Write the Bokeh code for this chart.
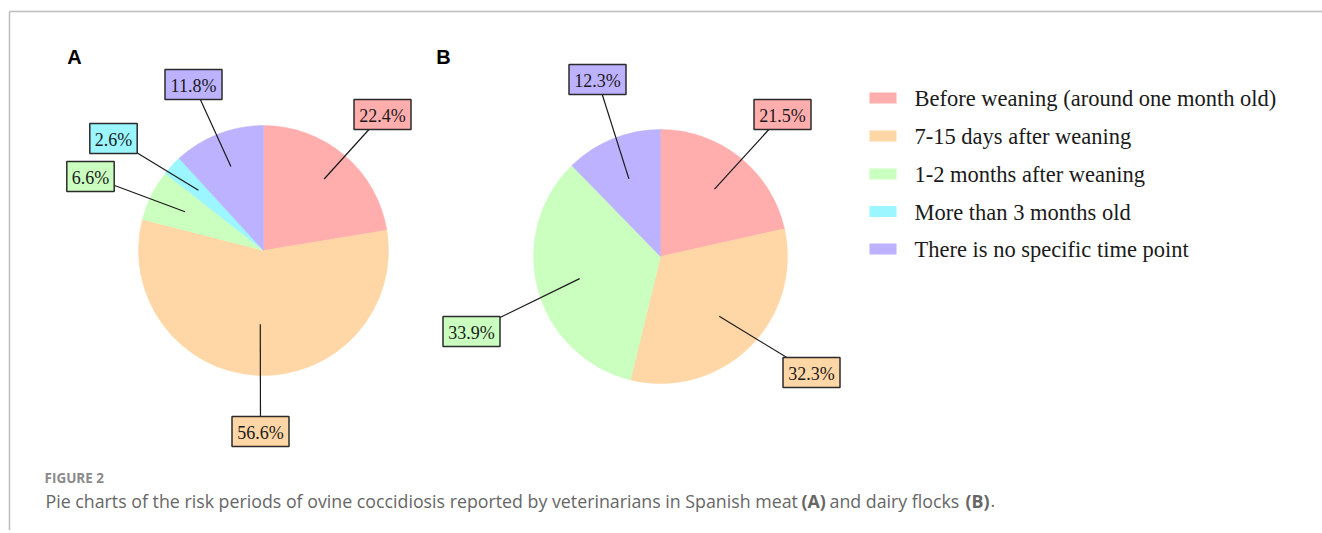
import math
from bokeh.plotting import figure
from bokeh.models import Range1d, ColumnDataSource
from bokeh.core.properties import value
from bokeh.embed import file_html
from bokeh.resources import INLINE

# ---------------- data ----------------
categories = ["Before weaning (around one month old)", "7-15 days after weaning",
              "1-2 months after weaning", "More than 3 months old",
              "There is no specific time point"]
meat_pct = [22.4, 56.6, 6.6, 2.6, 11.8]     # panel A
dairy_pct = [21.5, 32.3, 33.9, 0.0, 12.3]   # panel B
panel_names = ["A", "B"]
caption_title = "FIGURE 2"

# ---------------- style / layout ----------------
colors = ["#FFADAD", "#FFD6A5", "#CAFFBF", "#9BF6FF", "#BDB2FF"]
W, H = 1322, 530
# page pixel (px, py) -> data (px, 533 - py)
def Y(py):
    return 533 - py

pies = [
    dict(vals=meat_pct, cx=263, cy=250, r=125,
         lab_off=[(119, -136), (-3, 181), (-173, -74), (-150, -112), (-70, -166)],
         inner=[0.75, 0.59, 0.70, 0.71, 0.72], letter_xy=(74, 56)),
    dict(vals=dairy_pct, cx=660, cy=256, r=127,
         lab_off=[(122, -142), (151, 116), (-189, 75), (0, 0), (-63, -177)],
         inner=[0.68, 0.66, 0.66, 0.66, 0.66], letter_xy=(443, 56)),
]

p = figure(width=W, height=H, x_range=Range1d(0, W), y_range=Range1d(533 - H, 533),
           output_backend="svg", toolbar_location=None, x_axis_type=None,
           y_axis_type=None, min_border=0, outline_line_color=None,
           background_fill_color="white", border_fill_color="white")

# frame lines
p.segment(x0=[9, 9], y0=[Y(11), Y(11)], x1=[W, 9], y1=[Y(11), 533 - H],
          line_color="#bdbdbd", line_width=1.5)

for k, pie in enumerate(pies):
    vals = pie["vals"]
    total = sum(vals)
    cx, cy, r = pie["cx"], Y(pie["cy"]), pie["r"]
    starts, ends, cols = [], [], []
    lx0, ly0, lx1, ly1 = [], [], [], []
    bx, by, btxt, bcol = [], [], [], []
    cum = 0.0
    for i, v in enumerate(vals):
        if v <= 0:
            continue
        a0 = math.pi / 2 - 2 * math.pi * cum / total
        a1 = math.pi / 2 - 2 * math.pi * (cum + v) / total
        mid = (a0 + a1) / 2
        starts.append(a0); ends.append(a1); cols.append(colors[i])
        fr = pie["inner"][i]
        ox, oy = pie["lab_off"][i]
        lx0.append(cx + fr * r * math.cos(mid)); ly0.append(cy + fr * r * math.sin(mid))
        lx1.append(pie["cx"] + ox); ly1.append(Y(pie["cy"] + oy))
        bx.append(pie["cx"] + ox); by.append(Y(pie["cy"] + oy))
        btxt.append(f"{v:.1f}%"); bcol.append(colors[i])
        cum += v
    src = ColumnDataSource(dict(s=starts, e=ends, c=cols))
    p.wedge(x=cx, y=cy, radius=r, start_angle="s", end_angle="e", direction="clock",
            fill_color="c", line_color="c", line_width=0.5, source=src)
    p.segment(x0=lx0, y0=ly0, x1=lx1, y1=ly1, line_color="#1a1a1a", line_width=1.2)
    p.rect(x=bx, y=by, width=[len(t) * 9.6 + 9 for t in btxt], height=30,
           fill_color=bcol, line_color="#2b2b2b", line_width=1.5)
    p.text(x=bx, y=[b - 1 for b in by], text=btxt, text_font=value("Liberation Serif"),
           text_font_size="18px", text_align="center", text_baseline="middle",
           text_color="#1a1a1a")
    lx, ly = pie["letter_xy"]
    p.text(x=[lx], y=[Y(ly)], text=[panel_names[k]], text_font=value("Liberation Sans"),
           text_font_style="bold", text_font_size="20px", text_align="center",
           text_baseline="middle", text_color="black")

# legend
leg_y = [97.5, 135.5, 173.5, 211, 248.5]
p.rect(x=[882.5] * 5, y=[Y(v) for v in leg_y], width=27, height=11,
       fill_color=colors, line_color=None)
p.text(x=[914] * 5, y=[Y(v + 0.5) for v in leg_y], text=categories,
       text_font=value("Liberation Serif"), text_font_size="22.5px",
       text_align="left", text_baseline="middle", text_color="#1a1a1a")

# caption
p.text(x=[44], y=[Y(477.5)], text=[caption_title], text_font=value("Open Sans"),
       text_font_style="bold", text_font_size="13.5px", text_baseline="middle",
       text_color="#8a8a8a")
cap_parts = ["Pie charts of the risk periods of ovine coccidiosis reported by veterinarians in Spanish meat",
             "(A)", "and dairy flocks", "(B)", "."]
cap_x = [45, 801, 829, 965, 990]
cap_bold = [False, True, False, True, False]
for t, x, b in zip(cap_parts, cap_x, cap_bold):
    p.text(x=[x], y=[Y(500)], text=[t], text_font=value("Open Sans"),
           text_font_style="bold" if b else "normal", text_font_size="17.8px",
           text_baseline="middle", text_color="#666666")

open("out.html", "w").write(file_html(p, INLINE))
